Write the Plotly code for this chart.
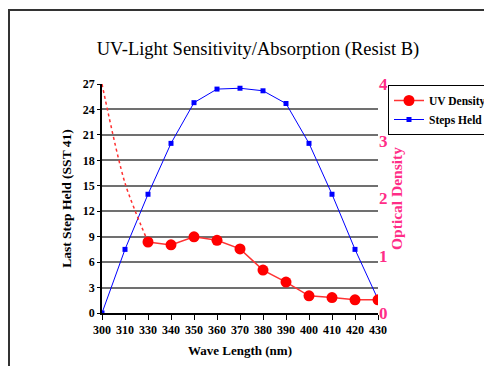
import plotly.graph_objects as go

categories = ["300", "310", "330", "340", "350", "360", "370", "380", "390", "400", "410", "420", "430"]
steps_held = [0, 7.5, 14, 20, 24.8, 26.4, 26.5, 26.2, 24.7, 20, 14, 7.5, 1.6]
uv_cats = ["330", "340", "350", "360", "370", "380", "390", "400", "410", "420", "430"]
uv_density = [1.24, 1.19, 1.33, 1.27, 1.12, 0.75, 0.54, 0.30, 0.27, 0.23, 0.23]
uv_extrap_cats = ["300", "310", "330"]
uv_extrap = [4.0, 2.27, 1.24]
left_ticks = [0, 3, 6, 9, 12, 15, 18, 21, 24, 27]
right_ticks = [0, 1, 2, 3, 4]

PINK = "#FF2D87"
SERIF = "Liberation Serif, Times New Roman, serif"

W, H = 484, 358
L, T, R, B = 94, 76, 114, 53
PW, PH = W - L - R, H - T - B

fig = go.Figure()
fig.add_trace(go.Scatter(
    x=uv_extrap_cats, y=uv_extrap, yaxis="y2", mode="lines",
    line=dict(color="#FF3030", width=1.5, dash="dot", shape="spline", smoothing=0.8),
    showlegend=False, hoverinfo="skip"))
fig.add_trace(go.Scatter(
    x=uv_cats, y=uv_density, yaxis="y2", mode="lines+markers", name="UV Density",
    line=dict(color="#FF3333", width=1.5),
    marker=dict(symbol="circle", size=11, color="#FF0000")))
fig.add_trace(go.Scatter(
    x=categories, y=steps_held, mode="lines+markers", name="Steps Held",
    line=dict(color="#0000FF", width=1),
    marker=dict(symbol="square", size=5, color="#0000FF")))

fig.update_layout(
    width=W, height=H,
    margin=dict(l=L, r=R, t=T, b=B, autoexpand=False),
    paper_bgcolor="white", plot_bgcolor="white",
    font=dict(family=SERIF, color="black"),
    title=dict(text="UV-Light Sensitivity/Absorption (Resist B)",
               x=(250 - L) / PW, xref="paper", xanchor="center",
               y=1 - 41 / H, yref="container", yanchor="middle", automargin=False,
               font=dict(family=SERIF, size=18.5, color="black")),
    xaxis=dict(type="category", categoryorder="array", categoryarray=categories,
               range=[0, 12], showgrid=False, zeroline=False, automargin=False,
               showline=True, linecolor="black", linewidth=1.5,
               ticks="outside", ticklen=5, tickcolor="black",
               tickfont=dict(family=SERIF, size=12, color="black", weight="bold"),
               title=dict(text="<b>Wave Length (nm)</b>", standoff=10,
                          font=dict(family=SERIF, size=13, color="black"))),
    yaxis=dict(range=[0, 27], tickvals=left_ticks, showgrid=True, automargin=False,
               gridcolor="#707070", gridwidth=2, zeroline=False,
               showline=True, linecolor="black", linewidth=1.5,
               ticks="outside", ticklen=3, tickcolor="black",
               tickfont=dict(family=SERIF, size=12, color="black", weight="bold"),
               title=dict(text="<b>Last Step Held (SST 41)</b>", standoff=8,
                          font=dict(family=SERIF, size=13.5, color="black"))),
    yaxis2=dict(range=[0, 4], tickvals=right_ticks, overlaying="y", side="right",
                showgrid=False, zeroline=False, showline=False, automargin=False,
                tickfont=dict(family=SERIF, size=17, color=PINK, weight="bold"),
                title=dict(text="<b>Optical Density</b>", standoff=2,
                           font=dict(family=SERIF, size=15.5, color=PINK))),
    legend=dict(x=(380 - L) / PW, y=(T + PH - 77) / PH, xanchor="left", yanchor="top",
                bordercolor="black", borderwidth=1, bgcolor="white",
                font=dict(family=SERIF, size=11.5, color="black", weight="bold"),
                tracegroupgap=0, itemwidth=30),
    shapes=[dict(type="rect", xref="paper", yref="paper",
                 x0=(1 - L) / PW, x1=2.0, y0=-1.0, y1=(T + PH - 2) / PH,
                 line=dict(color="#333333", width=2), fillcolor="rgba(0,0,0,0)", layer="below")],
)

fig.write_html("out.html")
